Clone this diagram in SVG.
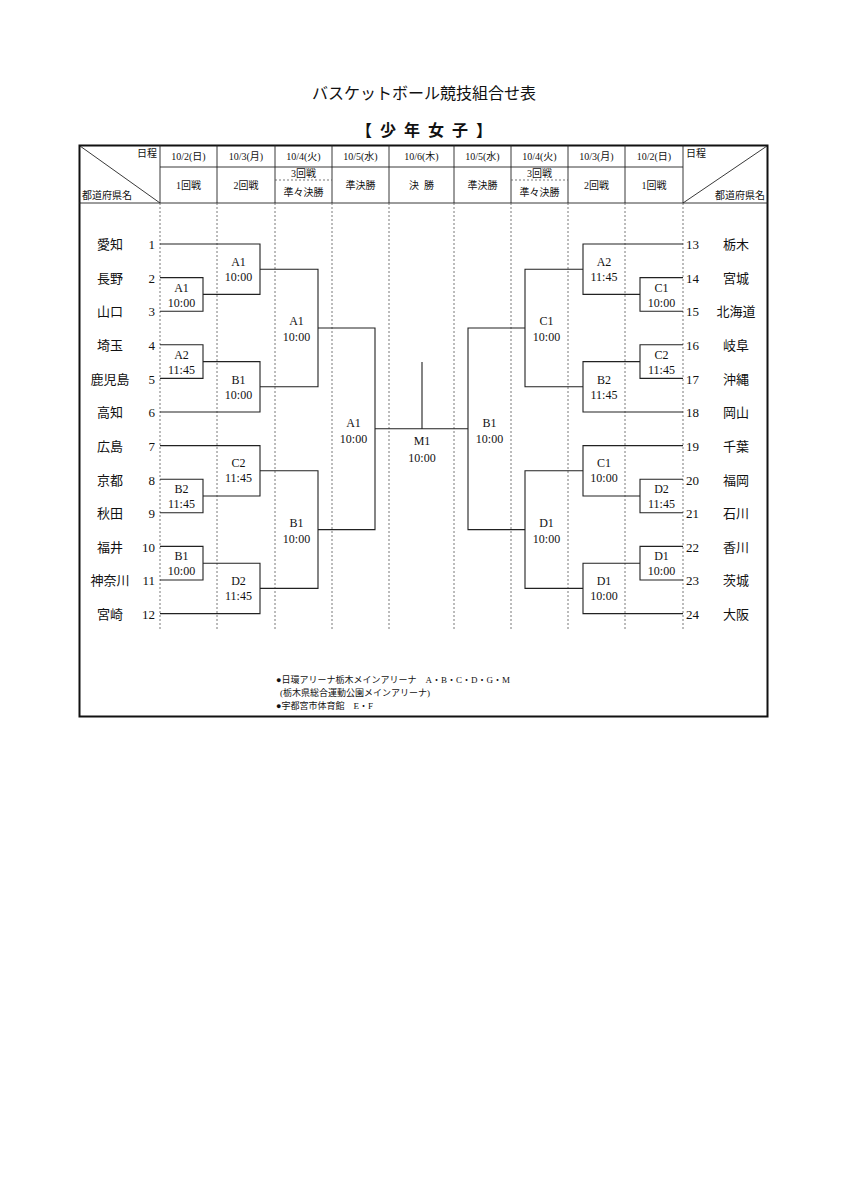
<svg xmlns="http://www.w3.org/2000/svg" width="848" height="1200" viewBox="0 0 848 1200">
<style>
text{font-family:"Liberation Serif","Noto Sans CJK JP",serif;fill:#111}
.t{font-size:12px;text-anchor:middle}
.h{font-size:10px;text-anchor:middle}
.n{font-size:13px}
.ln{fill:none;stroke:#222;stroke-width:1.1}
.dot{stroke:#555;stroke-width:0.8;stroke-dasharray:2,2}
.grid{stroke:#222;stroke-width:0.9}
</style>
<rect width="848" height="1200" fill="#fff"/>
<text x="424" y="99" font-size="16" text-anchor="middle">バスケットボール競技組合せ表</text>
<text x="424" y="136" font-size="16" text-anchor="middle" font-weight="bold" xml:space="preserve">【  少  年  女  子  】</text>
<g id="frame">
<rect x="79.5" y="145.5" width="688" height="571" fill="none" stroke="#111" stroke-width="2"/>
<line class="grid" x1="79" y1="203" x2="768" y2="203"/>
<line class="grid" x1="160" y1="167" x2="683" y2="167"/>
<g class="grid">
<line x1="160" y1="145" x2="160" y2="203"/><line x1="217" y1="145" x2="217" y2="203"/><line x1="275" y1="145" x2="275" y2="203"/><line x1="332" y1="145" x2="332" y2="203"/><line x1="389" y1="145" x2="389" y2="203"/><line x1="454" y1="145" x2="454" y2="203"/><line x1="511" y1="145" x2="511" y2="203"/><line x1="568" y1="145" x2="568" y2="203"/><line x1="625" y1="145" x2="625" y2="203"/><line x1="683" y1="145" x2="683" y2="203"/>
<line x1="80" y1="146" x2="160" y2="203"/><line x1="683" y1="203" x2="767" y2="146"/>
</g>
<line class="dot" x1="275" y1="180" x2="332" y2="180"/><line class="dot" x1="511" y1="180" x2="568" y2="180"/>
<g class="dot">
<line x1="160" y1="203" x2="160" y2="630"/><line x1="217" y1="203" x2="217" y2="630"/><line x1="275" y1="203" x2="275" y2="630"/><line x1="332" y1="203" x2="332" y2="630"/><line x1="389" y1="203" x2="389" y2="630"/><line x1="454" y1="203" x2="454" y2="630"/><line x1="511" y1="203" x2="511" y2="630"/><line x1="568" y1="203" x2="568" y2="630"/><line x1="625" y1="203" x2="625" y2="630"/><line x1="683" y1="203" x2="683" y2="630"/>
</g>
<text x="157" y="157" font-size="10" text-anchor="end">日程</text>
<text x="82" y="199" font-size="10">都道府県名</text>
<text x="686" y="157" font-size="10">日程</text>
<text x="765" y="199" font-size="10" text-anchor="end">都道府県名</text>
<text class="h" x="188.5" y="160">10/2(日)</text><text class="h" x="246" y="160">10/3(月)</text><text class="h" x="303.5" y="160">10/4(火)</text><text class="h" x="360.5" y="160">10/5(水)</text><text class="h" x="421.5" y="160">10/6(木)</text><text class="h" x="482.5" y="160">10/5(水)</text><text class="h" x="539.5" y="160">10/4(火)</text><text class="h" x="596.5" y="160">10/3(月)</text><text class="h" x="654" y="160">10/2(日)</text>
<text class="h" x="188.5" y="189">1回戦</text><text class="h" x="246" y="189">2回戦</text><text class="h" x="303.5" y="177">3回戦</text><text class="h" x="303.5" y="196">準々決勝</text><text class="h" x="360.5" y="189">準決勝</text><text class="h" x="421.5" y="189" xml:space="preserve">決  勝</text><text class="h" x="482.5" y="189">準決勝</text><text class="h" x="539.5" y="177">3回戦</text><text class="h" x="539.5" y="196">準々決勝</text><text class="h" x="596.5" y="189">2回戦</text><text class="h" x="654" y="189">1回戦</text>
</g>
<g id="teams-left" class="n">
<text x="110" y="249" text-anchor="middle">愛知</text><text x="155" y="249" text-anchor="end">1</text>
<text x="110" y="283" text-anchor="middle">長野</text><text x="155" y="283" text-anchor="end">2</text>
<text x="110" y="316" text-anchor="middle">山口</text><text x="155" y="316" text-anchor="end">3</text>
<text x="110" y="350" text-anchor="middle">埼玉</text><text x="155" y="350" text-anchor="end">4</text>
<text x="110" y="384" text-anchor="middle">鹿児島</text><text x="155" y="384" text-anchor="end">5</text>
<text x="110" y="417" text-anchor="middle">高知</text><text x="155" y="417" text-anchor="end">6</text>
<text x="110" y="451" text-anchor="middle">広島</text><text x="155" y="451" text-anchor="end">7</text>
<text x="110" y="485" text-anchor="middle">京都</text><text x="155" y="485" text-anchor="end">8</text>
<text x="110" y="518" text-anchor="middle">秋田</text><text x="155" y="518" text-anchor="end">9</text>
<text x="110" y="552" text-anchor="middle">福井</text><text x="155" y="552" text-anchor="end">10</text>
<text x="110" y="585" text-anchor="middle">神奈川</text><text x="155" y="585" text-anchor="end">11</text>
<text x="110" y="619" text-anchor="middle">宮崎</text><text x="155" y="619" text-anchor="end">12</text>
</g>
<g id="teams-right" class="n">
<text x="686" y="249">13</text><text x="736" y="249" text-anchor="middle">栃木</text>
<text x="686" y="283">14</text><text x="736" y="283" text-anchor="middle">宮城</text>
<text x="686" y="316">15</text><text x="736" y="316" text-anchor="middle">北海道</text>
<text x="686" y="350">16</text><text x="736" y="350" text-anchor="middle">岐阜</text>
<text x="686" y="384">17</text><text x="736" y="384" text-anchor="middle">沖縄</text>
<text x="686" y="417">18</text><text x="736" y="417" text-anchor="middle">岡山</text>
<text x="686" y="451">19</text><text x="736" y="451" text-anchor="middle">千葉</text>
<text x="686" y="485">20</text><text x="736" y="485" text-anchor="middle">福岡</text>
<text x="686" y="518">21</text><text x="736" y="518" text-anchor="middle">石川</text>
<text x="686" y="552">22</text><text x="736" y="552" text-anchor="middle">香川</text>
<text x="686" y="585">23</text><text x="736" y="585" text-anchor="middle">茨城</text>
<text x="686" y="619">24</text><text x="736" y="619" text-anchor="middle">大阪</text>
</g>
<g id="connectors" class="ln">
<path d="M160 277.6H203V311.2H160M160 344.8H203V378.4H160M160 244H260V294.4H203M203 361.6H260V412H160M260 269.2H318V386.8H260M160 479.2H203V512.8H160M160 546.4H203V580H160M160 445.6H260V496H203M203 563.2H260V613.6H160M260 470.8H318V588.4H260M318 328H375V529.6H318"/>
<path d="M683 277.6H640V311.2H683M683 344.8H640V378.4H683M683 244H583V294.4H640M640 361.6H583V412H683M583 269.2H525V386.8H583M683 479.2H640V512.8H683M683 546.4H640V580H683M683 445.6H583V496H640M640 563.2H583V613.6H683M583 470.8H525V588.4H583M525 328H468V529.6H525"/>
<path d="M375 428.8H468M422 362V428.8"/>
</g>
<g id="labels" class="t">
<text x="181.5" y="292">A1</text><text x="181.5" y="307">10:00</text>
<text x="181.5" y="359">A2</text><text x="181.5" y="374">11:45</text>
<text x="238.5" y="266">A1</text><text x="238.5" y="281">10:00</text>
<text x="238.5" y="384">B1</text><text x="238.5" y="399">10:00</text>
<text x="296.5" y="325">A1</text><text x="296.5" y="341">10:00</text>
<text x="181.5" y="493">B2</text><text x="181.5" y="508">11:45</text>
<text x="181.5" y="560">B1</text><text x="181.5" y="575">10:00</text>
<text x="238.5" y="467">C2</text><text x="238.5" y="482">11:45</text>
<text x="238.5" y="585">D2</text><text x="238.5" y="600">11:45</text>
<text x="296.5" y="527">B1</text><text x="296.5" y="543">10:00</text>
<text x="353.5" y="427">A1</text><text x="353.5" y="443">10:00</text>
<text x="422" y="445">M1</text><text x="422" y="462">10:00</text>
<text x="489.5" y="427">B1</text><text x="489.5" y="443">10:00</text>
<text x="661.5" y="292">C1</text><text x="661.5" y="307">10:00</text>
<text x="661.5" y="359">C2</text><text x="661.5" y="374">11:45</text>
<text x="604" y="266">A2</text><text x="604" y="281">11:45</text>
<text x="604" y="384">B2</text><text x="604" y="399">11:45</text>
<text x="546.5" y="325">C1</text><text x="546.5" y="341">10:00</text>
<text x="661.5" y="493">D2</text><text x="661.5" y="508">11:45</text>
<text x="661.5" y="560">D1</text><text x="661.5" y="575">10:00</text>
<text x="604" y="467">C1</text><text x="604" y="482">10:00</text>
<text x="604" y="585">D1</text><text x="604" y="600">10:00</text>
<text x="546.5" y="527">D1</text><text x="546.5" y="543">10:00</text>
</g>
<g id="notes" font-size="9">
<text x="276" y="683">●日環アリーナ栃木メインアリーナ　A・B・C・D・G・M</text>
<text x="280" y="696">(栃木県総合運動公園メインアリーナ)</text>
<text x="276" y="709">●宇都宮市体育館　E・F</text>
</g>
</svg>
